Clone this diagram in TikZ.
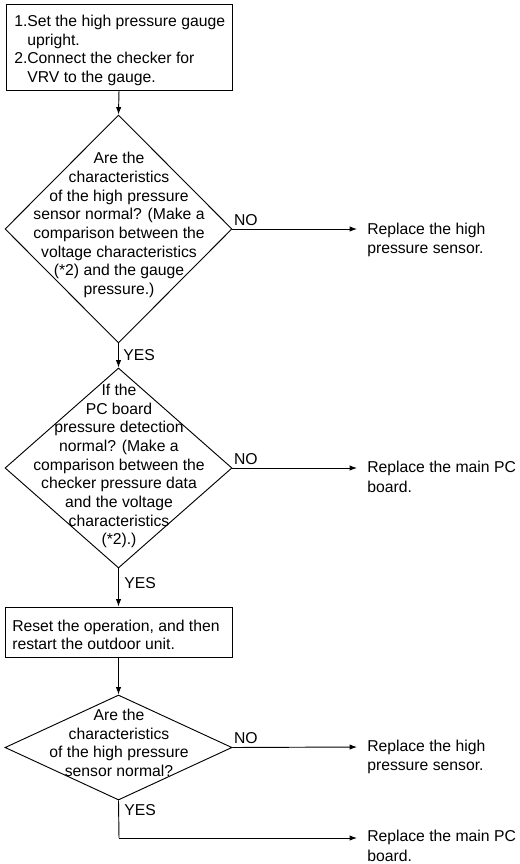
\documentclass[tikz,border=0pt]{standalone}
\usepackage{fontspec}
\setmainfont{Liberation Sans}
\usetikzlibrary{shapes.geometric,arrows.meta}
\begin{document}
\begin{tikzpicture}[x=0.75pt,y=-0.75pt,
  every node/.style={font=\fontsize{11.8}{14}\selectfont, inner sep=0pt},
  flowbox/.style={draw, rectangle, line width=0.7pt},
  decision/.style={draw, diamond, line width=0.7pt},
  conn/.style={line width=0.7pt, -{Latex[length=5.5pt,width=4pt]}},
  plainconn/.style={line width=0.7pt},
  resulttext/.style={anchor=west, align=left, font=\fontsize{11.8}{14.5}\selectfont},
  branch/.style={anchor=base west}
]
\useasboundingbox (0,0) rectangle (520,864);

% boxes
\node[flowbox, minimum width=169.5pt, minimum height=64.5pt] (b1) at (119,47) {};
\node[anchor=west, align=left] (b1t) at (14,50.5) {1.Set the high pressure gauge\\\phantom{1.}upright.\\2.Connect the checker for\\\phantom{2.}VRV to the gauge.};

% decision 1
\node[decision, minimum width=170.25pt, minimum height=171pt] (d1) at (118.5,229) {};
\node[align=center] (d1t) at (119,225) {Are the\\characteristics\\of the high pressure\\sensor normal? (Make a\\comparison between the\\voltage characteristics\\(*2) and the gauge\\pressure.)};

% decision 2
\node[decision, minimum width=170.25pt, minimum height=150pt] (d2) at (118.5,468) {};
\node[align=center] (d2t) at (119,466) {If the\\PC board\\pressure detection\\normal? (Make a\\comparison between the\\checker pressure data\\and the voltage\\characteristics\\(*2).)};

% box 2
\node[flowbox, minimum width=170.25pt, minimum height=37.5pt] (b2) at (118.5,632) {};
\node[anchor=west, align=left] (b2t) at (12,635) {Reset the operation, and then\\restart the outdoor unit.};

% decision 3
\node[decision, minimum width=170.25pt, minimum height=78.75pt] (d3) at (118.5,747.5) {};
\node[align=center] (d3t) at (119,743) {Are the\\characteristics\\of the high pressure\\sensor normal?};

% result texts
\node[resulttext] (r1) at (367,240) {Replace the high\\pressure sensor.};
\node[resulttext] (r2) at (367,477) {Replace the main PC\\board.};
\node[resulttext] (r3) at (367,757) {Replace the high\\pressure sensor.};
\node[resulttext] (r4) at (367,846) {Replace the main PC\\board.};

\coordinate (e1) at (357,229);
\coordinate (e2) at (357,468);
\coordinate (e3) at (357,747);
\coordinate (c4) at (119,838);
\coordinate (e4) at (357,838);

% vertical connectors
\draw[conn] (b1.south) -- (d1.north);
\draw[conn] (d1.south) -- (d2.north);
\draw[conn] (d2.south) -- (b2.north);
\draw[conn] (b2.south) -- (d3.north);
\draw[plainconn] (d3.south) -- (c4);
\draw[conn] (c4) -- (e4);

% NO connectors
\draw[conn] (d1.east) -- (e1);
\draw[conn] (d2.east) -- (e2);
\draw[conn] (d3.east) -- (e3);

% labels
\node[branch] (no1) at ([xshift=1pt,yshift=3pt]d1.east) {NO};
\node[branch] (no2) at ([xshift=1pt,yshift=3pt]d2.east) {NO};
\node[branch] (no3) at ([xshift=1pt,yshift=3pt]d3.east) {NO};
\node[anchor=west] (y1) at (123,355) {YES};
\node[anchor=west] (y2) at (124,583) {YES};
\node[anchor=west] (y3) at (124,810) {YES};
\end{tikzpicture}
\end{document}
